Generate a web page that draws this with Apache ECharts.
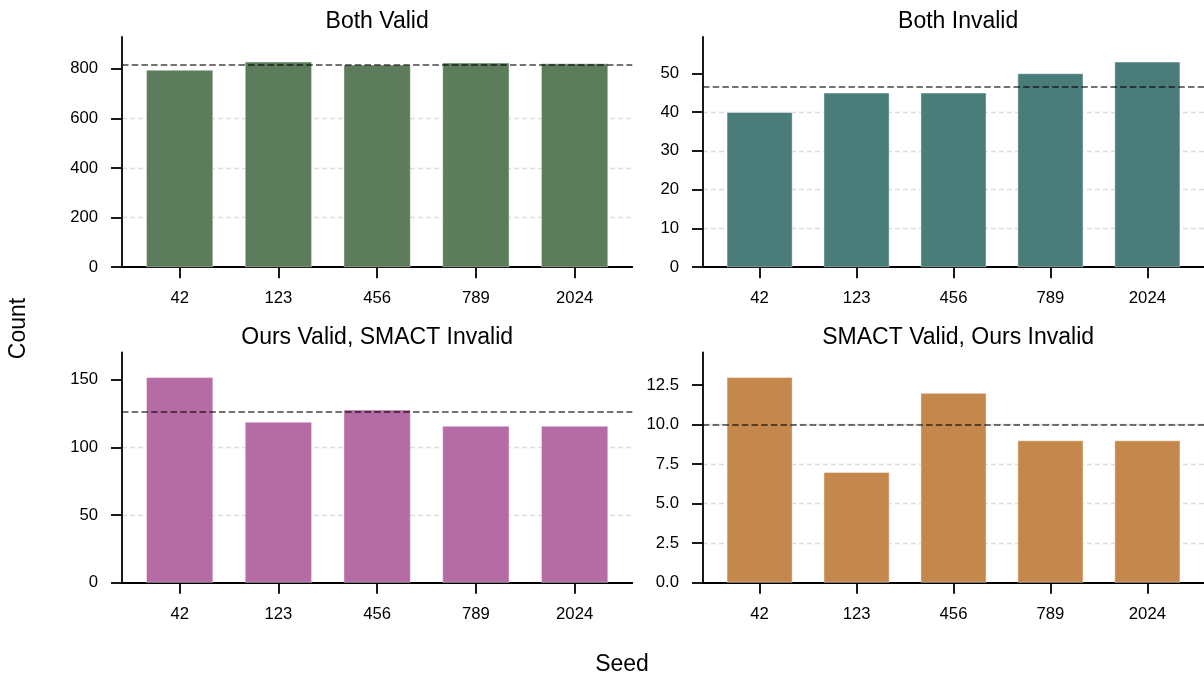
<!DOCTYPE html>
<html>
<head>
<meta charset="utf-8">
<script src="https://cdn.jsdelivr.net/npm/echarts@6/dist/echarts.min.js"></script>
<style>
html,body{margin:0;padding:0;background:#fff;}
#chart{width:1204px;height:674px;}
</style>
</head>
<body>
<div id="chart"></div>
<script>
// ---- data ----
const seeds = ['42', '123', '456', '789', '2024'];
const bothValid = [795, 828, 816, 824, 821];
const bothInvalid = [40, 45, 45, 50, 53];
const oursValidSmactInvalid = [152, 119, 128, 116, 116];
const smactValidOursInvalid = [13, 7, 12, 9, 9];
const titles = ['Both Valid', 'Both Invalid', 'Ours Valid, SMACT Invalid', 'SMACT Valid, Ours Invalid'];
const yTicks1 = [0, 200, 400, 600, 800];
const yTicks2 = [0, 10, 20, 30, 40, 50];
const yTicks3 = [0, 50, 100, 150];
const yTicks4 = [0, 2.5, 5, 7.5, 10, 12.5];
const colors = ['#5d7c5c', '#4a7c7a', '#b56ba4', '#c4884c'];

const FONT = "'Liberation Sans', Arial, Helvetica, sans-serif";
const panels = [
  {vals: bothValid, ticks: yTicks1, step: 200, dec: 0, left: 122, top: 37},
  {vals: bothInvalid, ticks: yTicks2, step: 10, dec: 0, left: 703, top: 37},
  {vals: oursValidSmactInvalid, ticks: yTicks3, step: 50, dec: 0, left: 122, top: 352.5},
  {vals: smactValidOursInvalid, ticks: yTicks4, step: 2.5, dec: 1, left: 703, top: 352.5}
];
const W = 510.3, H = 230.2;
const mean = a => a.reduce((s, v) => s + v, 0) / a.length;
const idx = seeds.map((_, i) => i);

const grid = [], xAxis = [], yAxis = [], series = [], graphic = [];
panels.forEach((p, k) => {
  grid.push({left: p.left, top: p.top, width: W, height: H, containLabel: false});
  xAxis.push({
    type: 'value', gridIndex: k, min: -0.584, max: 4.584,
    splitLine: {show: false},
    axisLine: {show: true, onZero: false, lineStyle: {color: '#000', width: 1.8}},
    axisTick: {show: true, customValues: idx, length: 11, lineStyle: {color: '#000', width: 1.8}},
    axisLabel: {customValues: idx, formatter: v => seeds[Math.round(v)], margin: 23,
      fontSize: 16.7, fontFamily: FONT, color: '#000'}
  });
  yAxis.push({
    type: 'value', gridIndex: k, min: 0, max: v => v.max * 1.12, interval: p.step,
    axisLine: {show: true, onZero: false, lineStyle: {color: '#000', width: 1.8}},
    axisTick: {show: true, customValues: p.ticks, length: 11, lineStyle: {color: '#000', width: 1.8}},
    axisLabel: {customValues: p.ticks, formatter: v => v.toFixed(p.dec), margin: 24,
      fontSize: 16.7, fontFamily: FONT, color: '#000'},
    splitLine: {show: true, showMinLine: false, showMaxLine: false,
      lineStyle: {color: '#dcdcdc', width: 1.3, type: [5, 3]}}
  });
  series.push({
    type: 'bar', xAxisIndex: k, yAxisIndex: k,
    data: p.vals.map((v, i) => [i, v]),
    barWidth: '68%',
    itemStyle: {color: colors[k], borderColor: 'rgba(255,255,255,0.55)', borderWidth: 0.8},
    markLine: {
      silent: true, symbol: ['none', 'none'], label: {show: false},
      lineStyle: {color: 'rgba(0,0,0,0.55)', width: 1.8, type: [6.5, 3.2]},
      data: [{yAxis: mean(p.vals)}]
    }
  });
  graphic.push({
    type: 'text', x: p.left + W / 2, y: p.top - 15,
    style: {text: titles[k], font: '23px ' + FONT, fill: '#000',
      textAlign: 'center', textVerticalAlign: 'middle', align: 'center', verticalAlign: 'middle'}
  });
});
graphic.push({
  type: 'text', x: 18.5, y: 328.5, rotation: Math.PI / 2,
  style: {text: 'Count', font: '23px ' + FONT, fill: '#000',
    textAlign: 'center', textVerticalAlign: 'middle', align: 'center', verticalAlign: 'middle'}
});
graphic.push({
  type: 'text', x: 622, y: 665,
  style: {text: 'Seed', font: '23px ' + FONT, fill: '#000',
    textAlign: 'center', textVerticalAlign: 'middle', align: 'center', verticalAlign: 'middle'}
});

const chart = echarts.init(document.getElementById('chart'), null, {renderer: 'canvas'});
chart.setOption({
  animation: false,
  backgroundColor: '#fff',
  grid, xAxis, yAxis, series, graphic
});
</script>
</body>
</html>
